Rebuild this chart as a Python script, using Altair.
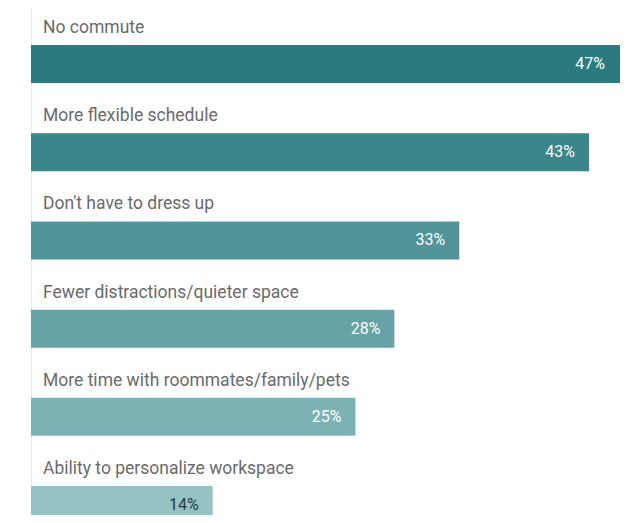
import altair as alt
import pandas as pd

categories = [
    "No commute",
    "More flexible schedule",
    "Don't have to dress up",
    "Fewer distractions/quieter space",
    "More time with roommates/family/pets",
    "Ability to personalize workspace",
]
values = [47, 43, 33, 28, 25, 14]
bar_colors = ["#2a7a80", "#3b868b", "#519599", "#66a3a7", "#7db2b5", "#96c2c5"]
label_colors = ["#ffffff", "#ffffff", "#ffffff", "#ffffff", "#ffffff", "#1f3b3e"]

df = pd.DataFrame({
    "cat": categories,
    "value": values,
    "row": list(range(len(categories))),
    "color": bar_colors,
    "lc": label_colors,
    "label": [f"{v}%" for v in values],
})

W = 597
H = 507
XMAX = 46
xscale = alt.Scale(domain=[0, XMAX], nice=False, zero=True)
yscale = alt.Scale(domain=[-0.5778, 5.0556], reverse=True, nice=False, zero=False)

base = alt.Chart(df)

bars = base.mark_bar(size=38, orient="horizontal", clip=True).encode(
    x=alt.X("value:Q", scale=xscale, axis=None),
    x2=alt.datum(0),
    y=alt.Y("row:Q", scale=yscale,
            axis=alt.Axis(labels=False, ticks=False, grid=False, title=None,
                          domainColor="#e8e8e8", domainWidth=1)),
    color=alt.Color("color:N", scale=None),
)

cat_labels = base.mark_text(
    align="left", baseline="alphabetic", dx=12, dy=-31,
    font="Roboto", fontSize=17.5, color="#6a6a6a",
).encode(
    x=alt.datum(0),
    y=alt.Y("row:Q", scale=yscale),
    text="cat:N",
)

# keep the value label of a bar that runs past the visible edge inside the page
val_labels = base.transform_calculate(
    lx="min(datum.value, 45.3)"
).mark_text(
    align="right", baseline="alphabetic", dx=-14, dy=5,
    font="Roboto", fontSize=16,
).encode(
    x=alt.X("lx:Q", scale=xscale),
    y=alt.Y("row:Q", scale=yscale),
    text="label:N",
    color=alt.Color("lc:N", scale=None),
)

chart = alt.layer(bars, cat_labels, val_labels).properties(
    width=W, height=H,
    padding={"left": 23, "top": 0, "right": -8, "bottom": 0},
    autosize=alt.AutoSizeParams(type="none"),
    background="#ffffff",
).configure_view(stroke=None)

chart.save("out.html", embed_options={"renderer": "svg", "actions": False})
